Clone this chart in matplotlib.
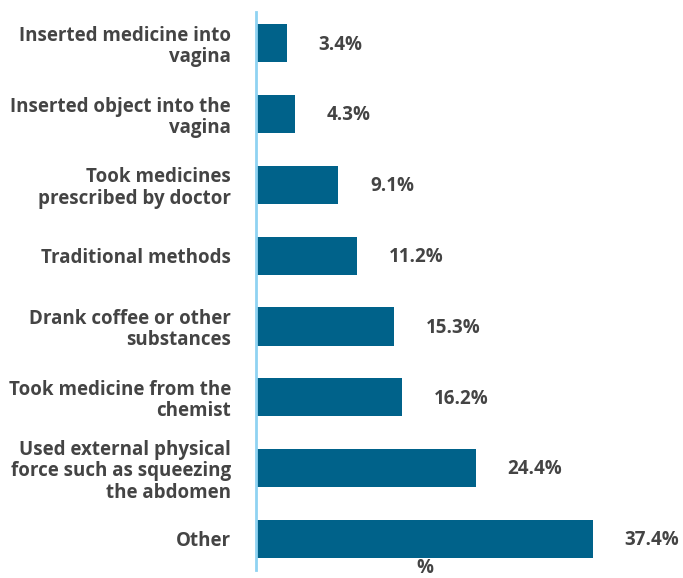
import matplotlib.pyplot as plt

categories = [
    "Inserted medicine into\nvagina",
    "Inserted object into the\nvagina",
    "Took medicines\nprescribed by doctor",
    "Traditional methods",
    "Drank coffee or other\nsubstances",
    "Took medicine from the\nchemist",
    "Used external physical\nforce such as squeezing\nthe abdomen",
    "Other",
]
values = [3.4, 4.3, 9.1, 11.2, 15.3, 16.2, 24.4, 37.4]
value_labels = ["3.4%", "4.3%", "9.1%", "11.2%", "15.3%", "16.2%", "24.4%", "37.4%"]

bar_color = "#00628a"
text_color = "#444444"
axis_color = "#8fd3f2"

plt.rcParams['font.family'] = ['Open Sans', 'DejaVu Sans']

fig = plt.figure(figsize=(6.83, 5.78), dpi=100)
ax = fig.add_axes([0.375, 0.014, 0.619, 0.965])

pos = list(range(len(values)))
ax.barh(pos, values, height=0.54, color=bar_color)

# value labels, a fixed gap right of each bar
for y, v, lab in zip(pos, values, value_labels):
    ax.annotate(lab, (v, y), xytext=(23, -1), textcoords='offset points',
                ha='left', va='center', fontsize=13.5, fontweight='bold',
                color=text_color)

ax.set_ylim(7.44, -0.44)
ax.set_xlim(0, 47)
ax.set_yticks(pos)
ax.set_yticklabels(categories, fontsize=13.5, fontweight='bold',
                   color=text_color, linespacing=1.1)
ax.tick_params(axis='y', length=0, pad=18)
ax.set_xticks([])

for s in ['top', 'right', 'bottom']:
    ax.spines[s].set_visible(False)
ax.spines['left'].set_color(axis_color)
ax.spines['left'].set_linewidth(2)

fig.text(425 / 683, 1 - 568 / 578, "%", fontsize=13.5, fontweight='bold',
         color=text_color, ha='center', va='center')

fig.savefig("out.png", dpi=100)
